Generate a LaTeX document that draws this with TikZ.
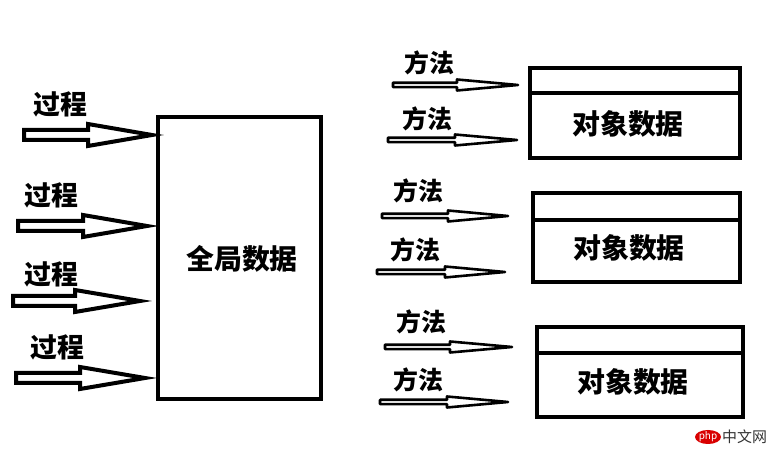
\documentclass[tikz,border=0pt]{standalone}
\usepackage{fontspec}
\setmainfont{Noto Sans CJK SC}
\usetikzlibrary{calc,shapes.geometric}
\tikzset{
  fat/.style={draw=black, line width=4bp, fill=white, line join=miter},
  thin/.style={draw=black, line width=2.6bp, fill=white, line join=round},
  proclabel/.style={font=\fontsize{27}{29}\selectfont\bfseries, inner sep=0pt},
  methlabel/.style={font=\fontsize{25}{27}\selectfont\bfseries, inner sep=0pt},
  boxtext/.style={font=\fontsize{28}{30}\selectfont\bfseries, inner sep=0pt},
  bigbox/.style={draw=black, line width=4.5bp, outer sep=0pt, inner sep=0pt},
}
% fat hollow arrow: tail, tip, head length
\newcommand\fatarrow[3]{%
  \draw[fat] let \p1=(#1), \p2=(#2) in
    (\x1,\y1+5bp) -- (\x2-#3,\y1+5bp) -- (\x2-#3,\y1+11bp) -- (\x2,\y2)
    -- (\x2-#3,\y1-11bp) -- (\x2-#3,\y1-5bp) -- (\x1,\y1-5bp) -- cycle;}
% thin hollow arrow: tail, tip, head length
\newcommand\thinarrow[3]{%
  \draw[thin] let \p1=(#1), \p2=(#2) in
    (\x1,\y1+2.2bp) -- (\x2-#3,\y1+2.2bp) -- (\x2-#3,\y1+5.5bp) -- (\x2,\y2)
    -- (\x2-#3,\y1-5.5bp) -- (\x2-#3,\y1-2.2bp) -- (\x1,\y1-2.2bp) -- cycle;}
\begin{document}
\begin{tikzpicture}[x=1bp,y=1bp]
\useasboundingbox (0,0) rectangle (784,457);
\fill[white] (0,0) rectangle (784,457);

% global data box
\node[bigbox, minimum width=163bp, minimum height=282bp] (global) at (239.5,199) {};
\node[boxtext] (globaltext) at (242,198) {全局数据};

% process arrows
\coordinate (p1t) at (24,322);  \coordinate (p1h) at (152,322);
\coordinate (p2t) at (18,231);  \coordinate (p2h) at (147,231);
\coordinate (p3t) at (13,156);  \coordinate (p3h) at (140,156);
\coordinate (p4t) at (16,79);   \coordinate (p4h) at (145,79);
\fatarrow{p1t}{p1h}{64bp}
\fatarrow{p2t}{p2h}{64bp}
\fatarrow{p3t}{p3h}{65bp}
\fatarrow{p4t}{p4h}{65bp}
\node[proclabel] (l1) at (60,353) {过程};
\node[proclabel] (l2) at (51,262) {过程};
\node[proclabel] (l3) at (51,183) {过程};
\node[proclabel] (l4) at (57,110) {过程};

% object boxes
\node[bigbox, minimum width=210bp, minimum height=90bp] (o1) at (635,344) {};
\node[bigbox, minimum width=207bp, minimum height=89bp] (o2) at (636.5,219.5) {};
\node[bigbox, minimum width=206bp, minimum height=90bp] (o3) at (640,85) {};
\draw[line width=4.5bp] ($(o1.north west)+(0,-25)$) -- ($(o1.north east)+(0,-25)$);
\draw[line width=4.5bp] ($(o2.north west)+(0,-27)$) -- ($(o2.north east)+(0,-27)$);
\draw[line width=4.5bp] ($(o3.north west)+(0,-26)$) -- ($(o3.north east)+(0,-26)$);
\node[boxtext] (t1) at (628,333) {对象数据};
\node[boxtext] (t2) at (629,209) {对象数据};
\node[boxtext] (t3) at (633,75) {对象数据};

% method arrows
\coordinate (m1t) at (393,372); \coordinate (m1h) at (518,372);
\coordinate (m2t) at (388,317); \coordinate (m2h) at (517,317);
\coordinate (m3t) at (382,241); \coordinate (m3h) at (508,241);
\coordinate (m4t) at (377,185); \coordinate (m4h) at (505,185);
\coordinate (m5t) at (385,110); \coordinate (m5h) at (512,110);
\coordinate (m6t) at (380,55);  \coordinate (m6h) at (508,55);
\thinarrow{m1t}{m1h}{61bp}
\thinarrow{m2t}{m2h}{62bp}
\thinarrow{m3t}{m3h}{60bp}
\thinarrow{m4t}{m4h}{60bp}
\thinarrow{m5t}{m5h}{62bp}
\thinarrow{m6t}{m6h}{61bp}
\node[methlabel] (ml1) at (429,394) {方法};
\node[methlabel] (ml2) at (427,338) {方法};
\node[methlabel] (ml3) at (418,266) {方法};
\node[methlabel] (ml4) at (415,207) {方法};
\node[methlabel] (ml5) at (421,135) {方法};
\node[methlabel] (ml6) at (418,77) {方法};

% watermark
\node[ellipse, fill=red!85!black, minimum width=26bp, minimum height=14bp, inner sep=0pt] (php) at (708,20) {};
\node[font=\fontsize{10}{10}\selectfont\itshape, text=white, inner sep=0pt] (phptext) at (708,20) {php};
\node[font=\fontsize{15}{16}\selectfont, text=black!80, inner sep=0pt, anchor=west] (cnweb) at (722,20) {中文网};
\end{tikzpicture}
\end{document}
